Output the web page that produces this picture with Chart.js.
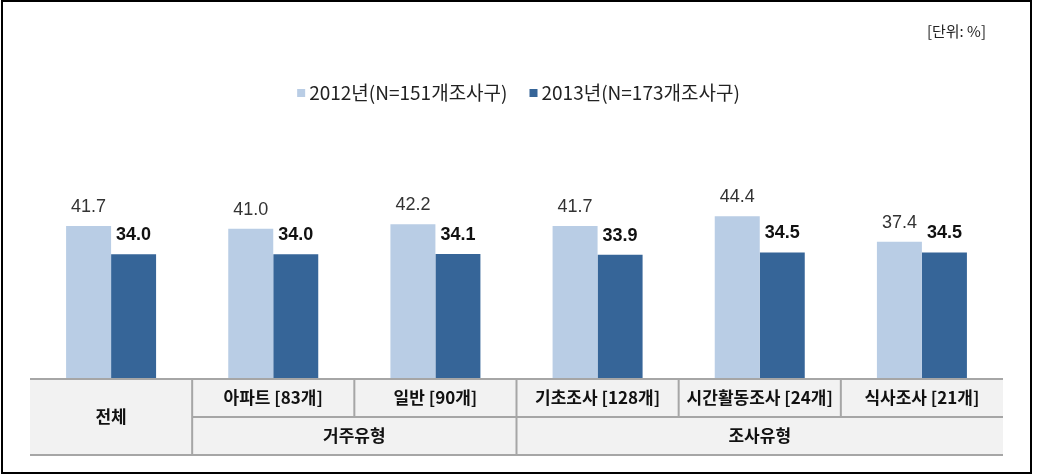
<!DOCTYPE html>
<html>
<head>
<meta charset="utf-8">
<script src="https://cdn.jsdelivr.net/npm/chart.js@4"></script>
<style>
  html, body { margin: 0; padding: 0; background: #fff; overflow: hidden; }
  #wrap { width: 1037px; height: 476px; position: relative; }
</style>
</head>
<body>
<div id="wrap"><canvas id="chart" width="1037" height="476"></canvas></div>
<script>
// chart values
const categories = ['전체', '아파트 [83개]', '일반 [90개]', '기초조사 [128개]', '시간활동조사 [24개]', '식사조사 [21개]'];
const groups = [
  { label: '', from: 0, to: 0 },
  { label: '거주유형', from: 1, to: 2 },
  { label: '조사유형', from: 3, to: 5 },
];
const seriesNames = ['2012년(N=151개조사구)', '2013년(N=173개조사구)'];
const values2012 = [41.7, 41.0, 42.2, 41.7, 44.4, 37.4];
const values2013 = [34.0, 34.0, 34.1, 33.9, 34.5, 34.5];
const unitLabel = '[단위: %]';

const LIGHT = '#b9cde5';
const DARK = '#366598';
const KR = '"Noto Sans CJK KR", "Noto Sans", sans-serif';
const NUM = '"Liberation Sans", Arial, sans-serif';

const decor = {
  id: 'decor',
  afterDraw(chart) {
    const ctx = chart.ctx;
    const area = chart.chartArea;
    const xs = chart.scales.x;
    ctx.save();

    // value labels
    chart.data.datasets.forEach((ds, di) => {
      const meta = chart.getDatasetMeta(di);
      ctx.font = (di === 1 ? 'bold ' : '') + '18px ' + NUM;
      ctx.fillStyle = di === 1 ? '#111' : '#333';
      ctx.textAlign = 'center';
      ctx.textBaseline = 'bottom';
      meta.data.forEach((bar, i) => {
        ctx.fillText(ds.data[i].toFixed(1), bar.x, bar.y - 10);
      });
    });

    // legend
    ctx.font = '19px ' + KR;
    ctx.textBaseline = 'middle';
    ctx.textAlign = 'left';
    const ly = 93;
    const w0 = ctx.measureText(seriesNames[0]).width;
    const w1 = ctx.measureText(seriesNames[1]).width;
    const total = 12 + w0 + 22 + 12 + w1;
    let lx = (chart.width - total) / 2;
    [LIGHT, DARK].forEach((c, i) => {
      ctx.fillStyle = c;
      ctx.fillRect(lx, ly - 4, 8, 8);
      ctx.fillStyle = '#222';
      ctx.fillText(seriesNames[i], lx + 12, ly);
      lx += 12 + (i === 0 ? w0 : w1) + 22;
    });

    // unit label
    ctx.font = '15px ' + KR;
    ctx.textAlign = 'right';
    ctx.fillStyle = '#222';
    ctx.fillText(unitLabel, 986, 31);

    // category table below the plot
    const n = categories.length;
    const edges = [area.left];
    for (let i = 0; i < n - 1; i++) {
      edges.push((xs.getPixelForValue(i) + xs.getPixelForValue(i + 1)) / 2);
    }
    edges.push(area.right);
    const top = area.bottom, mid = top + 38, bot = top + 76;
    ctx.fillStyle = '#f2f2f2';
    ctx.fillRect(area.left, top, area.right - area.left, bot - top);
    ctx.strokeStyle = '#a6a6a6';
    ctx.lineWidth = 2;
    ctx.beginPath();
    ctx.moveTo(area.left, top); ctx.lineTo(area.right, top);
    ctx.moveTo(edges[1], mid); ctx.lineTo(area.right, mid);
    ctx.moveTo(area.left, bot); ctx.lineTo(area.right, bot);
    for (let i = 1; i < n; i++) {
      const isGroupEdge = groups.some(g => g.from === i);
      ctx.moveTo(edges[i], top);
      ctx.lineTo(edges[i], isGroupEdge ? bot : mid);
    }
    ctx.stroke();

    ctx.fillStyle = '#111';
    ctx.font = 'bold 17px ' + KR;
    ctx.textAlign = 'center';
    ctx.textBaseline = 'middle';
    groups.forEach(g => {
      if (g.label === '') {
        ctx.fillText(categories[g.from], (edges[g.from] + edges[g.to + 1]) / 2, (top + bot) / 2);
      } else {
        for (let i = g.from; i <= g.to; i++) {
          ctx.fillText(categories[i], (edges[i] + edges[i + 1]) / 2, (top + mid) / 2);
        }
        ctx.fillText(g.label, (edges[g.from] + edges[g.to + 1]) / 2, (mid + bot) / 2);
      }
    });

    // outer frame
    ctx.strokeStyle = '#000';
    ctx.lineWidth = 2;
    ctx.strokeRect(2, 1, 1029, 472);
    ctx.restore();
  }
};

new Chart(document.getElementById('chart'), {
  type: 'bar',
  data: {
    labels: categories,
    datasets: [
      { label: seriesNames[0], data: values2012, backgroundColor: LIGHT },
      { label: seriesNames[1], data: values2013, backgroundColor: DARK },
    ],
  },
  options: {
    responsive: false,
    animation: false,
    devicePixelRatio: 1,
    layout: { padding: { left: 30, right: 34, top: 159, bottom: 97 } },
    datasets: { bar: { categoryPercentage: 0.555, barPercentage: 1 } },
    scales: {
      x: { display: false },
      y: { display: false, min: 0, max: 60 },
    },
    plugins: {
      legend: { display: false },
      tooltip: { enabled: false },
    },
  },
  plugins: [decor],
});
</script>
</body>
</html>
